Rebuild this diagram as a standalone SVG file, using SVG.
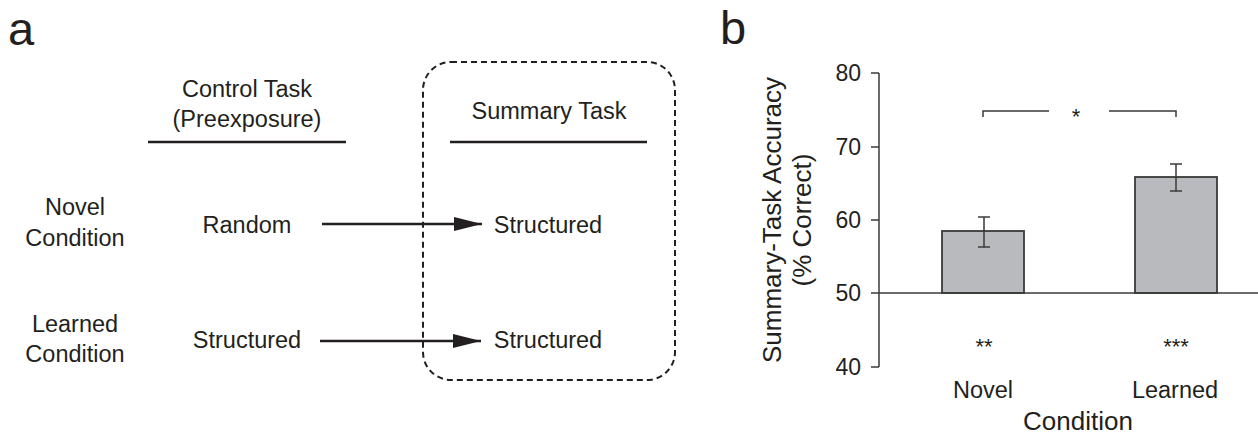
<svg xmlns="http://www.w3.org/2000/svg" width="1258" height="438" viewBox="0 0 1258 438">
<style>
  text { font-family: "Liberation Sans", Arial, sans-serif; fill: #231f20; }
  .lbl { font-size: 23.5px; text-anchor: middle; }
  .panel { font-size: 47px; }
  .tick { font-size: 23px; text-anchor: end; }
  .ax { font-size: 26px; text-anchor: middle; }
  .sig { font-size: 22px; text-anchor: middle; }
  .rule { stroke: #231f20; stroke-width: 2.5; fill: none; }
  .conn { stroke: #231f20; stroke-width: 2.3; fill: none; }
  .axis { stroke: #3a3a3a; stroke-width: 1.5; fill: none; }
  .bar { fill: #b9babd; stroke: #3a3a3a; stroke-width: 1.8; }
</style>
<defs>
  <marker id="arrow" markerUnits="userSpaceOnUse" markerWidth="30" markerHeight="16" refX="28" refY="7" orient="auto">
    <path d="M0,0 L28,7 L0,14 Z" fill="#231f20"/>
  </marker>
</defs>
<rect width="1258" height="438" fill="#ffffff"/>

<g id="panel-a">
  <text class="panel" x="8" y="45">a</text>
  <g id="control-header">
    <text class="lbl" x="247" y="97">Control Task</text>
    <text class="lbl" x="247" y="127">(Preexposure)</text>
    <line class="rule" x1="148" y1="142" x2="346" y2="142"/>
  </g>
  <g id="summary-box">
    <rect x="423" y="62" width="252" height="318" rx="28" ry="28" fill="none" stroke="#231f20" stroke-width="2" stroke-dasharray="6,4"/>
    <text class="lbl" x="549" y="119">Summary Task</text>
    <line class="rule" x1="450" y1="142" x2="647" y2="142"/>
  </g>
  <g id="novel-label">
    <text class="lbl" x="75" y="215">Novel</text>
    <text class="lbl" x="75" y="246">Condition</text>
  </g>
  <g id="learned-label">
    <text class="lbl" x="75" y="332">Learned</text>
    <text class="lbl" x="75" y="362">Condition</text>
  </g>
  <g id="novel-control"><text class="lbl" x="247" y="233">Random</text></g>
  <g id="learned-control"><text class="lbl" x="247" y="348">Structured</text></g>
  <g id="novel-summary"><text class="lbl" x="548" y="233">Structured</text></g>
  <g id="learned-summary"><text class="lbl" x="548" y="348">Structured</text></g>
  <g id="connectors">
    <line class="conn" x1="322" y1="224" x2="482" y2="224" marker-end="url(#arrow)"/>
    <line class="conn" x1="320" y1="341" x2="481" y2="341" marker-end="url(#arrow)"/>
  </g>
</g>

<g id="panel-b">
  <text class="panel" x="720" y="44">b</text>
  <g id="y-axis">
    <line class="axis" x1="879" y1="73" x2="879" y2="367"/>
    <line class="axis" x1="871" y1="73" x2="879" y2="73"/>
    <line class="axis" x1="871" y1="147" x2="879" y2="147"/>
    <line class="axis" x1="871" y1="220" x2="879" y2="220"/>
    <line class="axis" x1="871" y1="293" x2="879" y2="293"/>
    <line class="axis" x1="871" y1="367" x2="879" y2="367"/>
    <text class="tick" x="861" y="81">80</text>
    <text class="tick" x="861" y="155">70</text>
    <text class="tick" x="861" y="228">60</text>
    <text class="tick" x="861" y="301">50</text>
    <text class="tick" x="861" y="375">40</text>
    <text class="ax" transform="translate(781,220) rotate(-90)">Summary-Task Accuracy</text>
    <text class="ax" transform="translate(811,220) rotate(-90)">(% Correct)</text>
  </g>
  <g id="bar-novel">
    <rect class="bar" x="942" y="231" width="82" height="62"/>
    <line class="axis" x1="984" y1="217" x2="984" y2="247"/>
    <line class="axis" x1="978" y1="217" x2="990" y2="217"/>
    <line class="axis" x1="978" y1="247" x2="990" y2="247"/>
  </g>
  <g id="bar-learned">
    <rect class="bar" x="1135" y="177" width="82" height="116"/>
    <line class="axis" x1="1176" y1="164" x2="1176" y2="191"/>
    <line class="axis" x1="1170" y1="164" x2="1182" y2="164"/>
    <line class="axis" x1="1170" y1="191" x2="1182" y2="191"/>
  </g>
  <line class="axis" x1="879" y1="293" x2="1258" y2="293"/>
  <g id="significance">
    <polyline class="axis" points="983,117 983,111 1049,111"/>
    <polyline class="axis" points="1109,111 1176,111 1176,117"/>
    <text class="sig" x="1076" y="124">*</text>
    <text class="sig" x="984" y="354">**</text>
    <text class="sig" x="1176" y="354">***</text>
  </g>
  <g id="x-axis">
    <text class="lbl" x="983" y="398">Novel</text>
    <text class="lbl" x="1175" y="398">Learned</text>
    <text class="ax" x="1078" y="430">Condition</text>
  </g>
</g>
</svg>
